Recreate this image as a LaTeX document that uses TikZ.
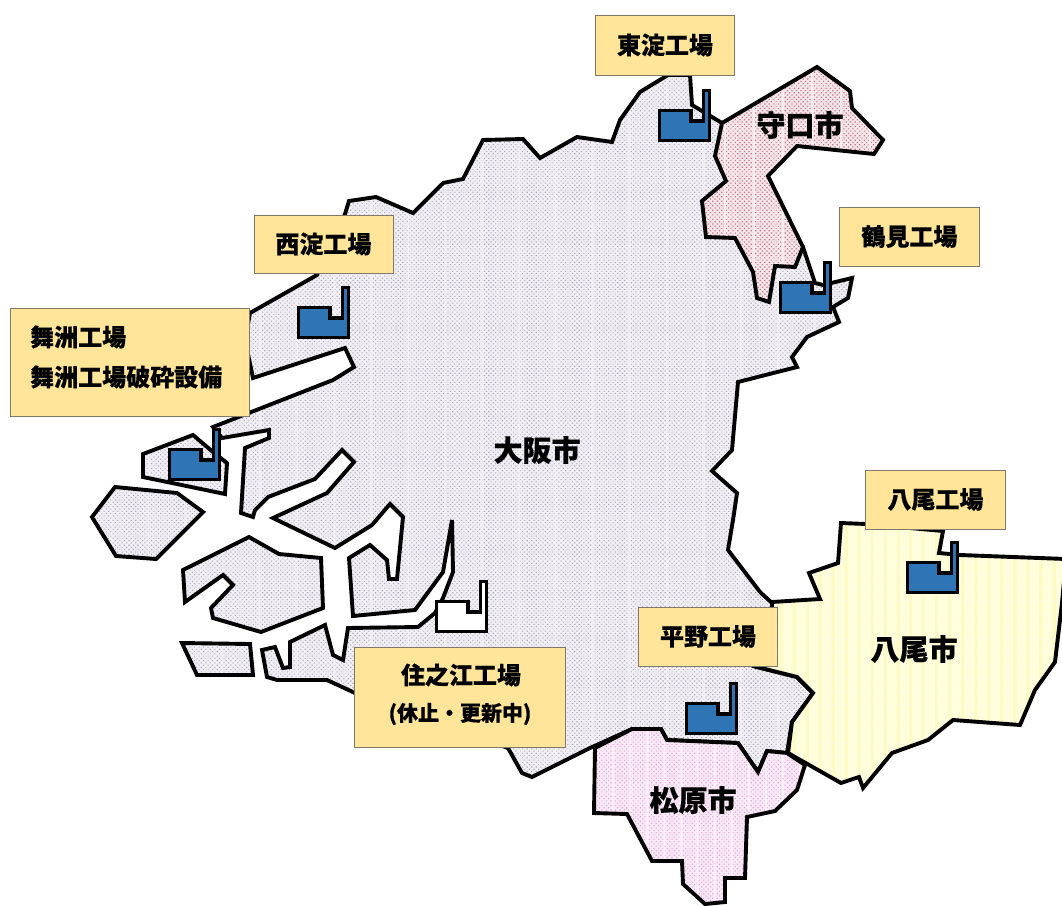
\documentclass[tikz,border=0pt]{standalone}
\usepackage{fontspec}
\setmainfont{Noto Sans CJK JP}[BoldFeatures={FakeBold=0.4}]
\usetikzlibrary{patterns.meta}
\definecolor{fblue}{HTML}{2F75B5}
\definecolor{lblfill}{HTML}{FFE599}
\definecolor{lbledge}{HTML}{80786A}
\tikzset{
  region/.style n args={3}{line width=3.9pt,draw=black,miter limit=6,
    preaction={fill=#1},
    preaction={pattern={Dots[radius=#3,distance=3.2pt,angle=45]},pattern color=#2}},
  osaka/.style={region={osakabg}{osakadot}{0.75pt},
    preaction={pattern={Lines[angle=90,distance=37pt,line width=1.2pt]},pattern color=white!30!osakabg}},
  mori/.style={region={moribg}{moridot}{0.85pt},
    preaction={pattern={Lines[angle=90,distance=29pt,line width=1.2pt]},pattern color=white!30!moribg}},
  matsu/.style={region={matsubg}{matsudot}{0.8pt},
    preaction={pattern={Lines[angle=90,distance=17pt,line width=2pt]},pattern color=white!40!matsubg}},
  yao/.style={line width=3.9pt,draw=black,miter limit=6,
    preaction={fill=yaobg},
    preaction={pattern={Lines[angle=90,distance=13pt,line width=4pt]},pattern color=yaodot}},
  lbl/.style={draw=lbledge,line width=0.8pt,fill=lblfill,inner sep=0pt},
  lbltext/.style={font=\bfseries\fontsize{24}{24}\selectfont,inner sep=0pt},
  subtext/.style={font=\bfseries\fontsize{21}{21}\selectfont,inner sep=0pt},
  city/.style={font=\bfseries\fontsize{29}{29}\selectfont,inner sep=0pt},
  plant/.pic={
    \path[draw=black,line width=3.4pt,miter limit=6,pic actions]
      (1.7,1.7) -- (33,1.7) -- (33,12) -- (45.6,12) -- (45.6,-18.3) -- (51.3,-18.3) -- (51.3,31.3) -- (1.7,31.3) -- cycle;
  }
}
\definecolor{osakabg}{HTML}{F1EFF5}
\definecolor{osakadot}{HTML}{A9A6B4}
\definecolor{moribg}{HTML}{F5E6E9}
\definecolor{moridot}{HTML}{C4708A}
\definecolor{matsubg}{HTML}{F8E9F6}
\definecolor{matsudot}{HTML}{E6A2DC}
\definecolor{yaobg}{HTML}{FEFDDC}
\definecolor{yaodot}{HTML}{FDFBC4}
\begin{document}
\begin{tikzpicture}[x=1pt,y=-1pt]
\useasboundingbox (0,0) rectangle (1062,905);
% Osaka city
\path[osaka] (250,313) -- (317,275) -- (345,214) -- (349,201) -- (376,197) -- (413,213) -- (443,183) -- (463,179) -- (483,140) -- (523,139) -- (540,158) -- (577,137) -- (612,142) -- (620,120) -- (640,92) -- (668,75) -- (690,75) -- (692,105) -- (722,123) -- (803,247) -- (815,283) -- (823,285) -- (852,278) -- (848,298) -- (833,307) -- (839,322) -- (807,337) -- (792,357) -- (797,367) -- (738,382) -- (732,450) -- (712,471) -- (737,493) -- (733,520) -- (728,550) -- (760,592) -- (772,603) -- (772,660) -- (757,667) -- (797,677) -- (813,693) -- (792,722) -- (787,753) -- (767,751) -- (758,772) -- (738,743) -- (667,740) -- (661,729) -- (632,729) -- (590,748) -- (580,753) -- (532,777) -- (522,773) -- (508,748) -- (355,693) -- (327,680) -- (277,680) -- (267,677) -- (262,650) -- (275,647) -- (283,668) -- (290,667) -- (290,642) -- (325,625) -- (333,655) -- (343,660) -- (348,628) -- (418,627) -- (435,613) -- (443,598) -- (453,572) -- (452,520) -- (443,572) -- (415,610) -- (353,616) -- (349,558) -- (370,545) -- (387,560) -- (389,579) -- (397,579) -- (403,517) -- (390,504) -- (372,525) -- (335,548) -- (273,518) -- (327,493) -- (354,462) -- (342,450) -- (315,479) -- (268,497) -- (255,510) -- (253,517) -- (241,513) -- (245,448) -- (269,438) -- (269,430) -- (222,438) -- (213,427) -- (333,380) -- (354,367) -- (345,348) -- (253,378) -- (245,340) -- cycle;
% islands
\path[osaka] (143,454) -- (193,435) -- (213,452) -- (227,463) -- (225,494) -- (143,477) -- cycle;
\path[osaka] (115,487) -- (177,493) -- (203,512) -- (156,559) -- (116,556) -- (92,517) -- cycle;
\path[osaka] (249,537) -- (279,554) -- (321,558) -- (323,608) -- (261,632) -- (213,618) -- (211,608) -- (233,585) -- (223,575) -- (185,602) -- (183,570) -- cycle;
\path[osaka] (182,643) -- (250,644) -- (253,675) -- (197,675) -- cycle;
% Moriguchi
\path[mori] (722,123) -- (817,67) -- (850,91) -- (852,108) -- (883,140) -- (874,154) -- (797,146) -- (768,176) -- (803,247) -- (795,267) -- (775,266) -- (769,302) -- (757,298) -- (753,272) -- (735,238) -- (706,237) -- (702,201) -- (726,181) -- (715,156) -- cycle;
% Yao
\path[yao] (772,602) -- (820,599) -- (809,573) -- (838,563) -- (841,523) -- (866,524) -- (943,531) -- (939,553) -- (960,555) -- (1066,559) -- (1062,603) -- (1055,662) -- (1035,690) -- (1020,725) -- (953,720) -- (928,740) -- (892,753) -- (863,788) -- (859,777) -- (841,783) -- (788,753) -- (792,722) -- (813,693) -- (797,677) -- (757,667) -- (772,640) -- cycle;
% Matsubara
\path[matsu] (595,748) -- (632,729) -- (661,729) -- (667,740) -- (738,743) -- (758,772) -- (767,751) -- (787,753) -- (805,765) -- (797,790) -- (775,811) -- (747,817) -- (745,878) -- (725,878) -- (725,902) -- (705,904) -- (683,884) -- (682,861) -- (652,861) -- (627,814) -- (594,813) -- cycle;
% plants
\pic[fill=fblue] at (658,109) {plant};
\pic[fill=fblue] at (297,306) {plant};
\pic[fill=fblue] at (168,448) {plant};
\pic[fill=fblue] at (779,281) {plant};
\pic[fill=fblue] at (906,561) {plant};
\pic[fill=fblue] at (685,702) {plant};
\pic[fill=white] at (435,600) {plant};
% labels
\node[lbl,minimum width=139pt,minimum height=60pt,lbltext] (higashi) at (665,45) {東淀工場};
\node[lbl,minimum width=139pt,minimum height=58pt,lbltext] (nishi) at (323.5,244) {西淀工場};
\node[lbl,minimum width=239pt,minimum height=108pt] (maishima) at (129.5,362) {};
\node[lbltext,anchor=west] (mai1) at (30,337) {舞洲工場};
\node[lbltext,anchor=west] (mai2) at (30,377) {舞洲工場破砕設備};
\node[lbl,minimum width=140pt,minimum height=59pt,lbltext] (tsurumi) at (909.5,236.5) {鶴見工場};
\node[lbl,minimum width=140pt,minimum height=59pt,lbltext] (yaoplant) at (935.5,499.5) {八尾工場};
\node[lbl,minimum width=139pt,minimum height=59pt,lbltext] (hirano) at (708,636.5) {平野工場};
\node[lbl,minimum width=211pt,minimum height=100pt] (suminoe) at (460,697) {};
\node[lbltext] (sum1) at (461,675) {住之江工場};
\node[subtext] (sum2) at (460,714) {(休止・更新中)};
% cities
\node[city] (c1) at (537,450) {大阪市};
\node[city] (c2) at (800,125) {守口市};
\node[city] (c3) at (914,649) {八尾市};
\node[city] (c4) at (693,800) {松原市};
\end{tikzpicture}
\end{document}
